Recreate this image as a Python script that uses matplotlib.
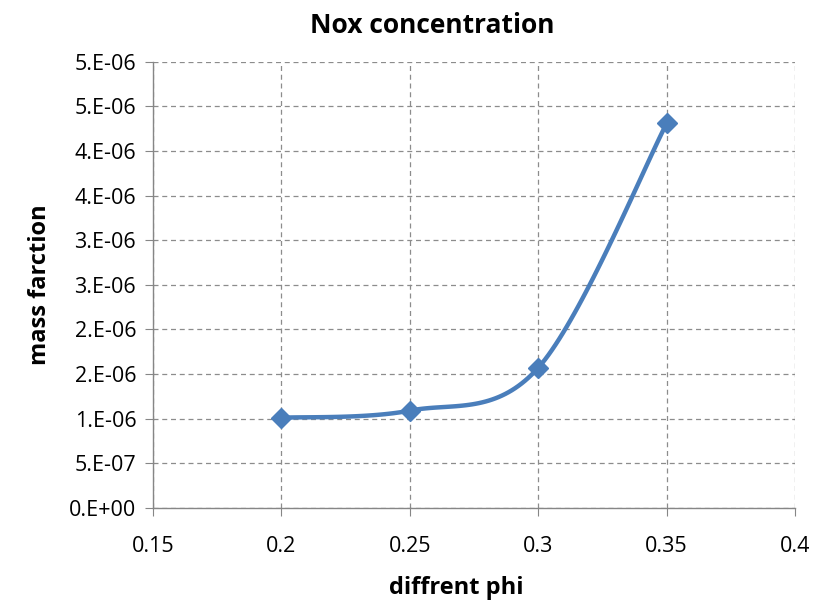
import numpy as np
import matplotlib
matplotlib.use("Agg")
import matplotlib.pyplot as plt

phi = [0.2, 0.25, 0.3, 0.35]
mass_fraction = [1.01e-6, 1.09e-6, 1.57e-6, 4.31e-6]

y_ticks = [0, 0.5e-6, 1.0e-6, 1.5e-6, 2.0e-6, 2.5e-6, 3.0e-6, 3.5e-6, 4.0e-6, 4.5e-6, 5.0e-6]
y_labels = ["0.E+00", "5.E-07", "1.E-06", "2.E-06", "2.E-06", "3.E-06",
            "3.E-06", "4.E-06", "4.E-06", "5.E-06", "5.E-06"]
x_ticks = [0.15, 0.2, 0.25, 0.3, 0.35, 0.4]
x_labels = ["0.15", "0.2", "0.25", "0.3", "0.35", "0.4"]

color = "#4a7ebb"
grid_color = "#8c8c8c"
plt.rcParams["font.family"] = ["Open Sans", "DejaVu Sans"]


def smooth(xs, ys, n=40):
    # catmull-rom like excel's smoothed line
    p = np.column_stack([xs, ys]).astype(float)
    p = np.vstack([p[0], p, p[-1]])
    out = []
    for i in range(1, len(p) - 2):
        p0, p1, p2, p3 = p[i - 1], p[i], p[i + 1], p[i + 2]
        c1 = p1 + (p2 - p0) / 6
        c2 = p2 - (p3 - p1) / 6
        t = np.linspace(0, 1, n)[:, None]
        seg = ((1 - t) ** 3) * p1 + 3 * ((1 - t) ** 2) * t * c1 + 3 * (1 - t) * t ** 2 * c2 + t ** 3 * p2
        out.append(seg if i == 1 else seg[1:])
    out = np.vstack(out)
    return out[:, 0], out[:, 1]


fig = plt.figure(figsize=(8.13, 6.01), dpi=100)
ax = fig.add_axes([0.188, 0.155, 0.790, 0.742])

sx, sy = smooth(phi, mass_fraction)
ax.plot(sx, sy, color=color, lw=3.2, solid_capstyle="round", zorder=3)
ax.plot(phi, mass_fraction, "D", color=color, ms=10, zorder=4)

ax.set_xlim(0.15, 0.4)
ax.set_ylim(0, 5.0e-6)
ax.set_xticks(x_ticks)
ax.set_xticklabels(x_labels)
ax.set_yticks(y_ticks)
ax.set_yticklabels(y_labels)

ax.grid(True, color=grid_color, ls=(0, (4, 3)), lw=0.9)
ax.set_axisbelow(True)
for s in ["top", "right"]:
    ax.spines[s].set_visible(False)
for s in ["left", "bottom"]:
    ax.spines[s].set_color("#868686")
    ax.spines[s].set_linewidth(1.0)
ax.tick_params(direction="out", length=6, color="#868686", labelsize=15.5)
ax.tick_params(axis="x", pad=14)
ax.tick_params(axis="y", pad=6)

ax.set_xlabel("diffrent phi", fontsize=17, fontweight="bold")
ax.xaxis.set_label_coords(0.472, -0.152)
ax.set_ylabel("mass farction", fontsize=17, fontweight="bold", labelpad=12)
fig.text(0.532, 0.958, "Nox concentration", fontsize=19, fontweight="bold",
         ha="center", va="center")

fig.savefig("out.png", dpi=100)
